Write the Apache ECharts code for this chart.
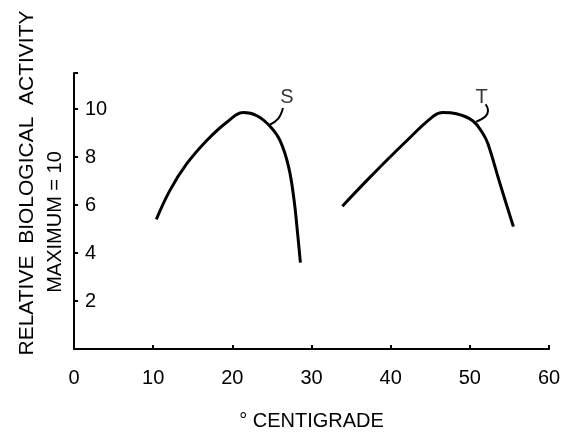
<!DOCTYPE html>
<html>
<head>
<meta charset="utf-8">
<script src="https://cdn.jsdelivr.net/npm/echarts@6/dist/echarts.min.js"></script>
<style>
  html, body { margin: 0; padding: 0; background: #fff; }
  #chart { width: 585px; height: 436px; }
</style>
</head>
<body>
<div id="chart"></div>
<script>
// curve S (°C, relative activity)
const sCurve = [
  [10.4, 5.4], [12.1, 6.6], [14.2, 7.7], [16.8, 8.7], [19.3, 9.45],
  [21.4, 9.85], [23.1, 9.72], [24.7, 9.3], [26.0, 8.7], [27.1, 7.6],
  [27.8, 6.2], [28.2, 4.96], [28.6, 3.6]
];
// curve T
const tCurve = [
  [33.9, 5.95], [37.4, 7.16], [41.6, 8.54], [45.4, 9.7], [46.6, 9.85],
  [48.3, 9.8], [50.4, 9.5], [51.7, 8.95], [52.3, 8.54], [53.8, 6.9],
  [55.5, 5.1]
];
// small hooks joining each curve to its letter
const sLeader = [[24.7, 9.34], [25.8, 9.6], [26.4, 10.04]];
const tLeader = [[50.8, 9.47], [52.0, 9.7], [52.3, 9.95], [52.0, 10.2]];
const curveLabels = [[26.9, 10.5, 'S'], [51.5, 10.5, 'T']];

const xTicks = [0, 10, 20, 30, 40, 50, 60];
const yTicks = [2, 4, 6, 8, 10];

const FONT = 'Liberation Sans';
const INK = '#000';

const chart = echarts.init(document.getElementById('chart'));

const lineSeries = (data, width) => ({
  type: 'line',
  data: data,
  smooth: 0.4,
  showSymbol: false,
  silent: true,
  lineStyle: { color: INK, width: width },
});

chart.setOption({
  animation: false,
  backgroundColor: '#fff',
  grid: { left: 74, right: 36, top: 73, bottom: 86 },
  xAxis: {
    type: 'value',
    min: xTicks[0],
    max: xTicks[xTicks.length - 1],
    interval: 10,
    splitLine: { show: false },
    axisLine: { lineStyle: { color: INK, width: 2 } },
    axisTick: { inside: true, length: 4, lineStyle: { color: INK, width: 2 } },
    axisLabel: { color: INK, fontFamily: FONT, fontSize: 20, margin: 19 },
    name: '° CENTIGRADE',
    nameLocation: 'middle',
    nameGap: 62,
    nameTextStyle: { color: INK, fontFamily: FONT, fontSize: 20 },
  },
  yAxis: {
    type: 'value',
    min: 0,
    max: 11.5,
    interval: 2,
    splitLine: { show: false },
    axisLine: { lineStyle: { color: INK, width: 2 } },
    axisTick: { inside: true, length: 4, lineStyle: { color: INK, width: 2 } },
    axisLabel: {
      inside: true,
      margin: 11,
      color: INK,
      fontFamily: FONT,
      fontSize: 20,
      formatter: (v) => (yTicks.includes(v) ? String(v) : ''),
    },
  },
  graphic: [
    {
      type: 'text',
      x: 27, y: 183, rotation: Math.PI / 2,
      style: {
        text: 'RELATIVE  BIOLOGICAL  ACTIVITY',
        fill: INK, font: '21px "Liberation Sans"',
        align: 'center', verticalAlign: 'middle',
      },
    },
    {
      type: 'text',
      x: 55, y: 222, rotation: Math.PI / 2,
      style: {
        text: 'MAXIMUM = 10',
        fill: INK, font: '20px "Liberation Sans"',
        align: 'center', verticalAlign: 'middle',
      },
    },
  ],
  series: [
    lineSeries(sCurve, 3),
    lineSeries(tCurve, 3),
    lineSeries(sLeader, 2),
    lineSeries(tLeader, 2),
    {
      type: 'scatter',
      symbolSize: 0,
      silent: true,
      data: curveLabels,
      label: {
        show: true,
        position: 'inside',
        formatter: (p) => p.data[2],
        color: INK,
        fontFamily: FONT,
        fontSize: 20,
      },
    },
  ],
});
</script>
</body>
</html>
